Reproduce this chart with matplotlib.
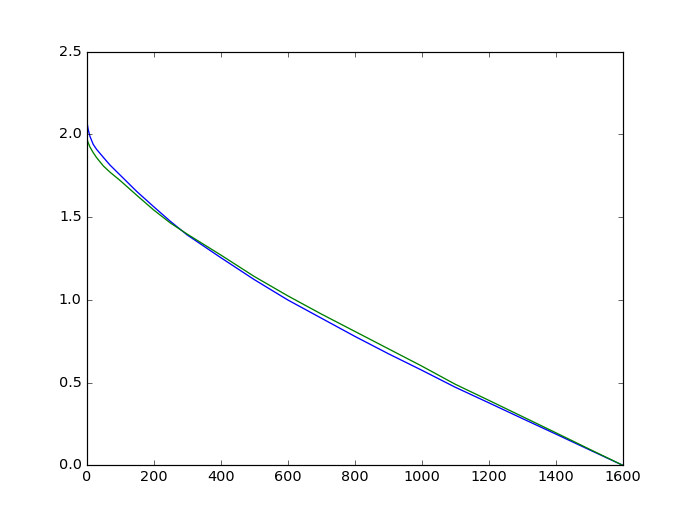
import matplotlib
matplotlib.use("Agg")
import matplotlib.pyplot as plt

plt.style.use("classic")

blue_x = [0, 1, 5, 10, 20, 30, 50, 70, 100, 150, 200, 250, 300, 400, 500, 600, 700, 800, 900, 1000, 1100, 1200, 1300, 1400, 1500, 1600]
blue_y = [2.14, 2.08, 2.03, 1.99, 1.94, 1.91, 1.862, 1.815, 1.755, 1.655, 1.564, 1.475, 1.393, 1.256, 1.123, 1.0, 0.89, 0.78, 0.675, 0.575, 0.472, 0.378, 0.283, 0.189, 0.094, 0.0]

green_x = [0, 5, 10, 20, 30, 50, 70, 100, 150, 200, 250, 300, 400, 500, 600, 700, 800, 900, 1000, 1100, 1200, 1300, 1400, 1500, 1600]
green_y = [1.98, 1.95, 1.925, 1.89, 1.86, 1.81, 1.772, 1.722, 1.632, 1.544, 1.465, 1.398, 1.272, 1.142, 1.025, 0.915, 0.81, 0.705, 0.6, 0.49, 0.393, 0.295, 0.197, 0.098, 0.0]

dpi = 86.5
fig = plt.figure(figsize=(692 / dpi, 517 / dpi), dpi=dpi)
ax = fig.add_subplot(111)
ax.plot(blue_x, blue_y, color="b", lw=1.1)
ax.plot(green_x, green_y, color="g", lw=1.1)
ax.set_xlim(0, 1600)
ax.set_ylim(0, 2.5)
fig.savefig("out.png", dpi=dpi)
